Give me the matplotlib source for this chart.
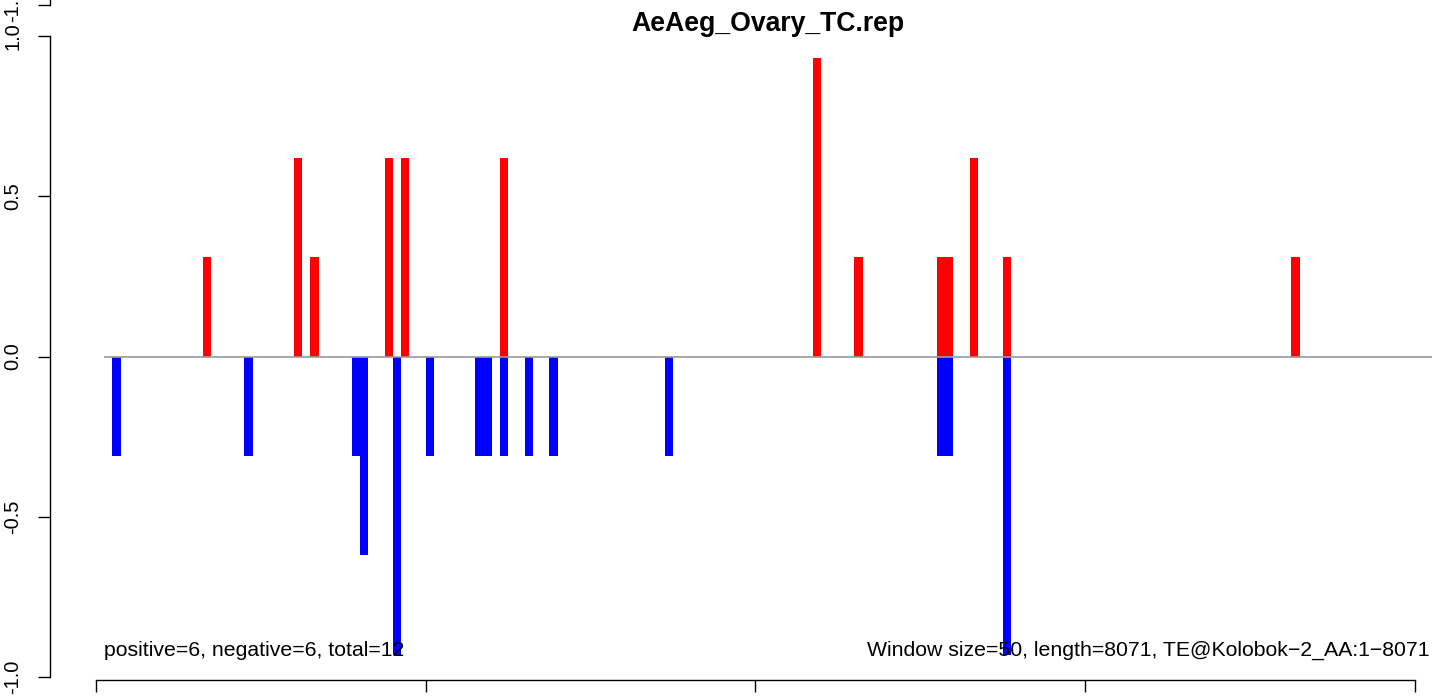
import matplotlib
matplotlib.use("Agg")
import matplotlib.pyplot as plt
import numpy as np

plt.rcParams['font.family'] = ['Liberation Sans', 'DejaVu Sans']

title = "AeAeg_Ovary_TC.rep"
window = 50
length = 8071

# window index (50 bp windows) and normalised signal
pos_windows = [13, 24, 26, 35, 37, 49, 87, 92, 102, 103, 106, 110, 145]
pos_values = [0.31, 0.62, 0.31, 0.62, 0.62, 0.62, 0.93,
              0.31, 0.31, 0.31, 0.62, 0.31, 0.31]
neg_windows = [2, 18, 31, 32, 36, 40, 46, 47, 49, 52, 55, 69, 102, 103, 110]
neg_values = [-0.31, -0.31, -0.31, -0.62, -0.93, -0.31, -0.31,
              -0.31, -0.31, -0.31, -0.31, -0.31, -0.31, -0.31,
              -0.93]

xticks = [0, 2000, 4000, 6000, 8000]
yticks = [-1.0, -0.5, 0.0, 0.5, 1.0]

left_text = "positive=6, negative=6, total=12"
right_text = "Window size=50, length=8071, TE@Kolobok\u22122_AA:1\u22128071"

W, H = 1444, 698
fig = plt.figure(figsize=(W / 100, H / 100), dpi=100)

# pixel mapping of the original R device
px_per_bp = (1415 - 96) / 8000.0
x0_px = 96
px_per_unit = 320.5
y0_px = 356.5

def bp(px):
    return (px - x0_px) / px_per_bp

def val(py):
    return (y0_px - py) / px_per_unit

ax = fig.add_axes([0, 0, 1, 1])
ax.patch.set_alpha(0)
ax.set_xlim(bp(0), bp(W))
ax.set_ylim(val(H), val(0))

ax.bar(np.array(pos_windows) * window, pos_values, width=window, align='edge',
       color='#ff0000', linewidth=0, zorder=2)
ax.bar(np.array(neg_windows) * window, neg_values, width=window, align='edge',
       color='#0000ff', linewidth=0, zorder=2)
ax.hlines(0, bp(103.5), bp(1432), color='#9a9a9a', linewidth=1.2, zorder=3)

for s in ['top', 'right']:
    ax.spines[s].set_visible(False)
ax.spines['left'].set_position(('data', bp(50)))
ax.spines['left'].set_bounds(-1, 1)
ax.spines['bottom'].set_position(('data', val(679.5)))
ax.spines['bottom'].set_bounds(0, 8000)
for s in ['left', 'bottom']:
    ax.spines[s].set_linewidth(1.0)

ax.set_xticks(xticks)
ax.tick_params(axis='x', direction='out', length=8.6, width=1.0,
               labelbottom=False)
ax.set_yticks(yticks)
ax.set_yticklabels([f"{v:.1f}" for v in yticks], rotation=90, va='center')
ax.tick_params(axis='y', direction='out', length=8.6, width=1.0,
               labelsize=14.4, pad=11.5)

ax.text(bp(104), val(656), left_text, fontsize=15.3, ha='left',
        va='baseline', zorder=5)
ax.text(bp(1430), val(656), right_text, fontsize=15.3, ha='right',
        va='baseline', zorder=5)
ax.text(bp(768), val(31), title, fontsize=19.2, fontweight='bold',
        ha='center', va='baseline', zorder=5)

# left axis of the panel above (only its bottom end shows)
ax2 = fig.add_axes([0, 0, 1, 1])
ax2.patch.set_alpha(0)
ax2.set_xlim(bp(0), bp(W))
ax2.set_ylim(-1 - (H - 5) / px_per_unit, -1 + 5 / px_per_unit)
for s in ['top', 'right', 'bottom']:
    ax2.spines[s].set_visible(False)
ax2.spines['left'].set_position(('data', bp(50)))
ax2.spines['left'].set_bounds(-1, 1)
ax2.spines['left'].set_linewidth(1.0)
ax2.set_xticks([])
ax2.set_yticks([-1.0])
ax2.set_yticklabels(["-1.0"], rotation=90, va='center')
ax2.tick_params(axis='y', direction='out', length=8.6, width=1.0,
                labelsize=14.4, pad=11.5)

fig.savefig("out.png", dpi=100)
